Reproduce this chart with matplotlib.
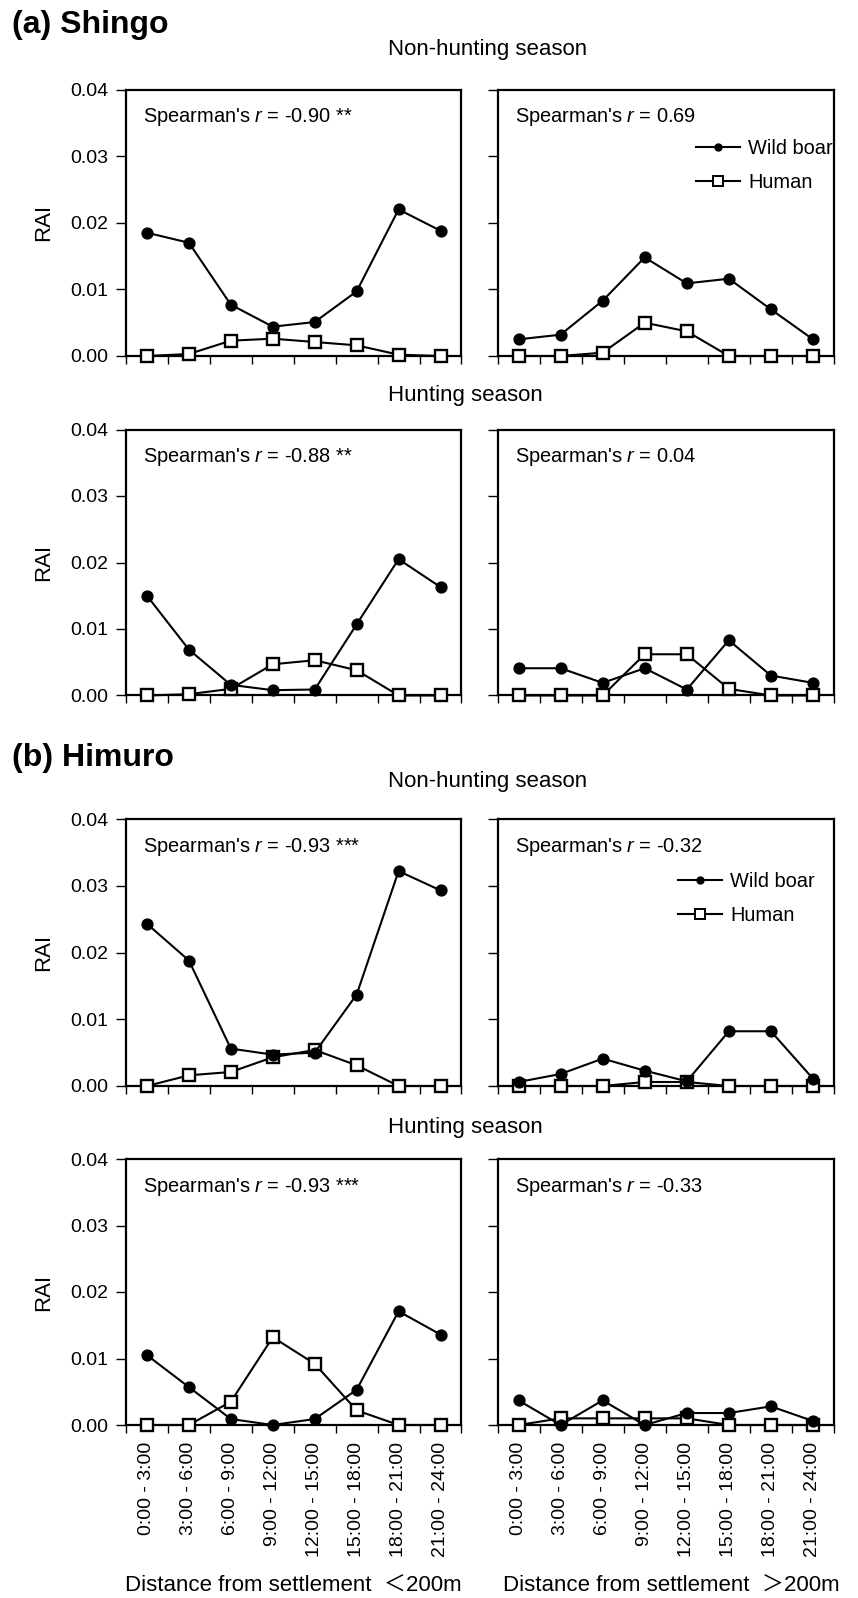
import numpy as np
import matplotlib
matplotlib.use('Agg')
import matplotlib.pyplot as plt
from matplotlib.lines import Line2D

plt.rcParams['font.family'] = ['Liberation Sans', 'Noto Sans CJK JP', 'DejaVu Sans']
plt.rcParams['mathtext.fontset'] = 'custom'
plt.rcParams['mathtext.rm'] = 'Liberation Sans'
plt.rcParams['mathtext.it'] = 'Liberation Sans:italic'

# categorias (intervalos de 3 horas)
horas = ['0:00 - 3:00', '3:00 - 6:00', '6:00 - 9:00', '9:00 - 12:00',
         '12:00 - 15:00', '15:00 - 18:00', '18:00 - 21:00', '21:00 - 24:00']

# (a) Shingo, temporada sin caza
shingo_nocaza_cerca_jabali = [0.0185, 0.0170, 0.0077, 0.0044, 0.0051, 0.0097, 0.0220, 0.0188]
shingo_nocaza_cerca_humano = [0.0000, 0.0003, 0.0023, 0.0026, 0.0021, 0.0016, 0.0002, 0.0000]
shingo_nocaza_lejos_jabali = [0.0025, 0.0032, 0.0083, 0.0148, 0.0109, 0.0116, 0.0070, 0.0025]
shingo_nocaza_lejos_humano = [0.0000, 0.0000, 0.0005, 0.0050, 0.0037, 0.0000, 0.0000, 0.0000]
# (a) Shingo, temporada de caza
shingo_caza_cerca_jabali = [0.0150, 0.0069, 0.0016, 0.0008, 0.0009, 0.0107, 0.0205, 0.0163]
shingo_caza_cerca_humano = [0.0000, 0.0002, 0.0010, 0.0047, 0.0053, 0.0038, 0.0000, 0.0000]
shingo_caza_lejos_jabali = [0.0041, 0.0041, 0.0019, 0.0041, 0.0009, 0.0083, 0.0030, 0.0019]
shingo_caza_lejos_humano = [0.0000, 0.0000, 0.0000, 0.0062, 0.0062, 0.0010, 0.0000, 0.0000]
# (b) Himuro, temporada sin caza
himuro_nocaza_cerca_jabali = [0.0243, 0.0188, 0.0056, 0.0047, 0.0050, 0.0137, 0.0322, 0.0293]
himuro_nocaza_cerca_humano = [0.0000, 0.0016, 0.0021, 0.0043, 0.0054, 0.0031, 0.0000, 0.0000]
himuro_nocaza_lejos_jabali = [0.0006, 0.0018, 0.0041, 0.0023, 0.0007, 0.0082, 0.0082, 0.0011]
himuro_nocaza_lejos_humano = [0.0000, 0.0000, 0.0000, 0.0006, 0.0006, 0.0000, 0.0000, 0.0000]
# (b) Himuro, temporada de caza
himuro_caza_cerca_jabali = [0.0105, 0.0057, 0.0009, 0.0000, 0.0009, 0.0053, 0.0171, 0.0136]
himuro_caza_cerca_humano = [0.0000, 0.0000, 0.0035, 0.0132, 0.0092, 0.0022, 0.0000, 0.0000]
himuro_caza_lejos_jabali = [0.0037, 0.0000, 0.0037, 0.0000, 0.0018, 0.0018, 0.0028, 0.0006]
himuro_caza_lejos_humano = [0.0000, 0.0010, 0.0010, 0.0010, 0.0010, 0.0000, 0.0000, 0.0000]

spearman = ['-0.90 **', '0.69', '-0.88 **', '0.04',
            '-0.93 ***', '-0.32', '-0.93 ***', '-0.33']

paneles = [
    (shingo_nocaza_cerca_jabali, shingo_nocaza_cerca_humano),
    (shingo_nocaza_lejos_jabali, shingo_nocaza_lejos_humano),
    (shingo_caza_cerca_jabali, shingo_caza_cerca_humano),
    (shingo_caza_lejos_jabali, shingo_caza_lejos_humano),
    (himuro_nocaza_cerca_jabali, himuro_nocaza_cerca_humano),
    (himuro_nocaza_lejos_jabali, himuro_nocaza_lejos_humano),
    (himuro_caza_cerca_jabali, himuro_caza_cerca_humano),
    (himuro_caza_lejos_jabali, himuro_caza_lejos_humano),
]

W, H = 858, 1598
fig = plt.figure(figsize=(W / 100, H / 100), dpi=100)

# posicion de cada fila en pixeles (arriba, abajo)
filas = [(89.5, 356), (429.5, 695.5), (819, 1086), (1159, 1425)]
columnas = [(126, 461.5), (497.5, 834)]

# leyenda: (x, y) en coordenadas del eje
pos_leyenda = {1: (0.590, 0.816), 5: (0.537, 0.800)}

x = np.arange(len(horas))
for k, (jabali, humano) in enumerate(paneles):
    fila = filas[k // 2]
    col = columnas[k % 2]
    ax = fig.add_axes([col[0] / W, 1 - fila[1] / H,
                       (col[1] - col[0]) / W, (fila[1] - fila[0]) / H])
    ax.plot(x, humano, color='black', lw=1.5, marker='s', ms=8.5,
            mfc='white', mec='black', mew=1.7, clip_on=False, zorder=3)
    ax.plot(x, jabali, color='black', lw=1.5, marker='o', ms=7.8,
            clip_on=False, zorder=4)
    ax.set_xlim(-0.5, 7.5)
    ax.set_ylim(0, 0.04)
    for s in ax.spines.values():
        s.set_linewidth(1.6)
    ax.set_yticks([0, 0.01, 0.02, 0.03, 0.04])
    ax.set_xticks(np.arange(-0.5, 8, 1))
    ax.set_xticklabels([])
    ax.tick_params(axis='y', direction='out', length=7.5, width=1.0, pad=5,
                   labelsize=14)
    ax.tick_params(axis='x', which='major', direction='out', length=6,
                   width=1.0)
    if k % 2 == 0:
        ax.set_yticklabels(['%.2f' % v for v in ax.get_yticks()])
        ax.set_ylabel('RAI', fontsize=16)
        ax.yaxis.set_label_coords(-0.213, 0.5)
    else:
        ax.set_yticklabels([])
    if k >= 6:
        ax.set_xticks(x, minor=True)
        ax.set_xticklabels(horas, minor=True, rotation=90, fontsize=14,
                           va='top', ha='center')
        ax.tick_params(axis='x', which='minor', length=0, pad=12)
    ax.text(0.052, 0.896, "Spearman's $\\it{r}$ = " + spearman[k],
            transform=ax.transAxes, fontsize=14.4, va='center', ha='left')
    if k in pos_leyenda:
        h1 = Line2D([], [], color='black', lw=1.5, marker='o', ms=5)
        h2 = Line2D([], [], color='black', lw=1.5, marker='s', ms=7,
                    mfc='white', mew=1.4)
        ax.legend([h1, h2], ['Wild boar', 'Human'], loc='upper left',
                  bbox_to_anchor=pos_leyenda[k], frameon=False,
                  fontsize=14.4, handlelength=2.2, handletextpad=0.4,
                  labelspacing=0.75, borderpad=0, borderaxespad=0)

# titulos
fig.text(12 / W, 1 - 25 / H, '(a) Shingo', fontsize=23, fontweight='bold',
         va='center', ha='left')
fig.text(12 / W, 1 - 758 / H, '(b) Himuro', fontsize=23, fontweight='bold',
         va='center', ha='left')
for yy, txt in [(50, 'Non-hunting season'), (395, 'Hunting season'),
                (782, 'Non-hunting season'), (1127, 'Hunting season')]:
    fig.text(388 / W, 1 - yy / H, txt, fontsize=16, va='center', ha='left')

fig.text(125 / W, 1 - 1586 / H, 'Distance from settlement  ＜200m',
         fontsize=16, va='center', ha='left')
fig.text(503 / W, 1 - 1586 / H, 'Distance from settlement  ＞200m',
         fontsize=16, va='center', ha='left')

plt.savefig('out.png', dpi=100)
